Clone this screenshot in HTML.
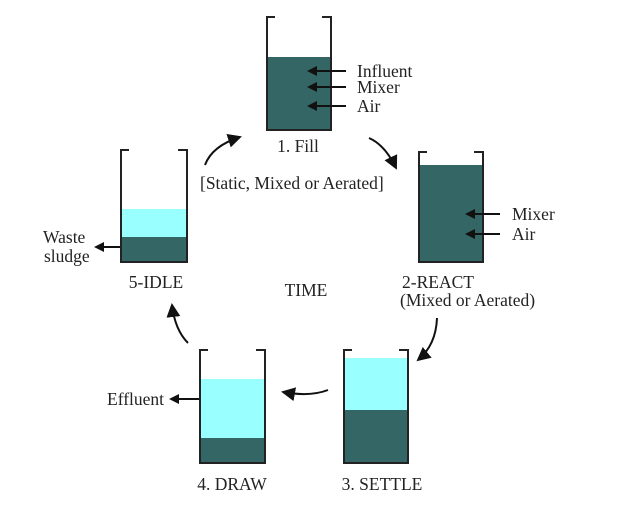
<!DOCTYPE html>
<html><head><style>
body{margin:0;background:#fff;}
svg{display:block;}
text{font-family:"Liberation Serif",serif;font-size:17.5px;fill:#222;}
</style></head><body>
<svg width="641" height="505" viewBox="0 0 641 505">
<defs>
<marker id="ah" markerWidth="10" markerHeight="10" refX="8" refY="5" orient="auto" markerUnits="userSpaceOnUse">
<path d="M0,0 L10,5 L0,10 Z" fill="#111"/></marker>
<marker id="ab" markerWidth="14" markerHeight="14" refX="12" refY="7" orient="auto" markerUnits="userSpaceOnUse">
<path d="M0,0 L14,7 L0,14 Z" fill="#111"/></marker>
</defs>
<g stroke="#222" stroke-width="2" fill="none">
<rect x="267" y="57" width="64" height="73" fill="#346666" stroke="none"/>
<path d="M275,17 H267 V130 H331 V17 H322"/>
<rect x="419" y="165" width="64" height="97" fill="#346666" stroke="none"/>
<path d="M427,152 H419 V262 H483 V152 H474"/>
<rect x="344" y="358" width="64" height="52" fill="#99ffff" stroke="none"/>
<rect x="344" y="410" width="64" height="53" fill="#346666" stroke="none"/>
<path d="M352,350 H344 V463 H408 V350 H399"/>
<rect x="200" y="379" width="65" height="59" fill="#99ffff" stroke="none"/>
<rect x="200" y="438" width="65" height="25" fill="#346666" stroke="none"/>
<path d="M208,350 H200 V463 H265 V350 H256"/>
<rect x="121" y="209" width="66" height="28" fill="#99ffff" stroke="none"/>
<rect x="121" y="237" width="66" height="25" fill="#346666" stroke="none"/>
<path d="M129,150 H121 V262 H187 V150 H178"/>
</g>
<g stroke="#111" stroke-width="2" fill="none">
<line x1="346" y1="71" x2="309" y2="71" marker-end="url(#ah)"/>
<line x1="346" y1="87" x2="309" y2="87" marker-end="url(#ah)"/>
<line x1="346" y1="106" x2="309" y2="106" marker-end="url(#ah)"/>
<line x1="500" y1="214" x2="467" y2="214" marker-end="url(#ah)"/>
<line x1="500" y1="234" x2="467" y2="234" marker-end="url(#ah)"/>
<line x1="199" y1="399" x2="171" y2="399" marker-end="url(#ah)"/>
<line x1="120" y1="247" x2="96" y2="247" marker-end="url(#ah)"/>
<path d="M205,165 Q212,146 240,137" marker-end="url(#ab)"/>
<path d="M369,138 Q385,145 396,168" marker-end="url(#ab)"/>
<path d="M437,318 Q436,345 418,360" marker-end="url(#ab)"/>
<path d="M328,390 Q310,397 283,392" marker-end="url(#ab)"/>
<path d="M188,343 Q175,330 172,305" marker-end="url(#ab)"/>
</g>
<text x="357" y="77">Influent</text>
<text x="357" y="93">Mixer</text>
<text x="357" y="112">Air</text>
<text x="298" y="152" text-anchor="middle">1. Fill</text>
<text x="200" y="189">[Static, Mixed or Aerated]</text>
<text x="512" y="220">Mixer</text>
<text x="512" y="240">Air</text>
<text x="402" y="288">2-REACT</text>
<text x="400" y="306">(Mixed or Aerated)</text>
<text x="306" y="296" text-anchor="middle">TIME</text>
<text x="382" y="490" text-anchor="middle">3. SETTLE</text>
<text x="232" y="490" text-anchor="middle">4. DRAW</text>
<text x="107" y="405">Effluent</text>
<text x="43" y="243">Waste</text>
<text x="44" y="262">sludge</text>
<text x="156" y="288" text-anchor="middle">5-IDLE</text>
</svg>
</body></html>
